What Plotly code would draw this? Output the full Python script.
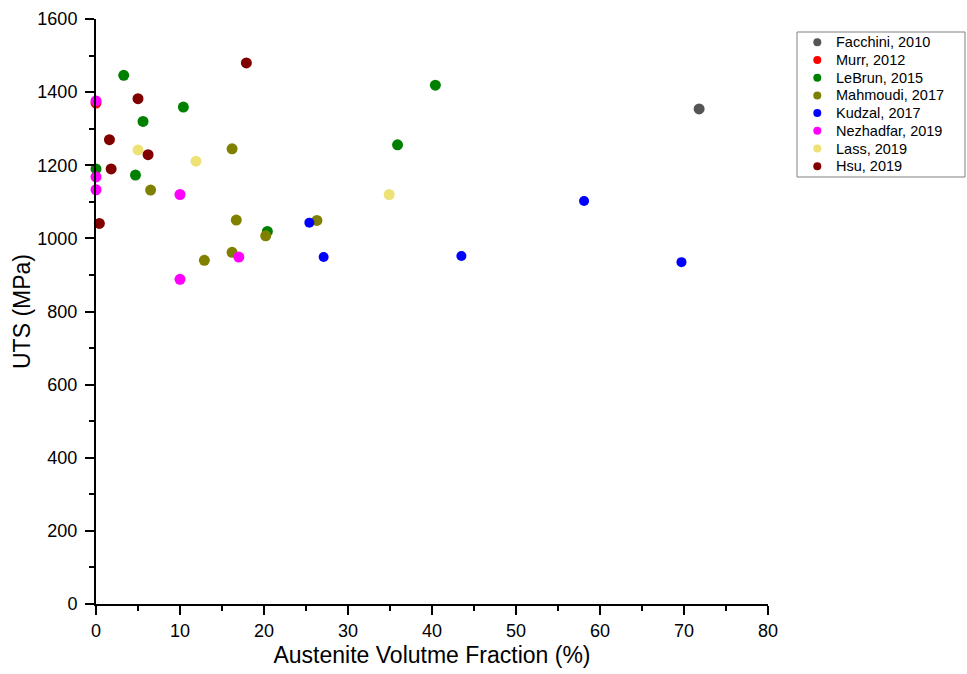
import plotly.graph_objects as go

series_names = ["Facchini, 2010", "Murr, 2012", "LeBrun, 2015", "Mahmoudi, 2017",
                "Kudzal, 2017", "Nezhadfar, 2019", "Lass, 2019", "Hsu, 2019"]
series_colors = ["#555555", "#FF0000", "#008000", "#808000",
                 "#0000FF", "#FF00FF", "#EEE277", "#800000"]

facchini_x = [71.8]
facchini_y = [1354]

murr_x = [0.0]
murr_y = [1370]

lebrun_x = [3.3, 10.4, 5.6, 0.0, 4.7, 20.4, 40.4, 35.9]
lebrun_y = [1446, 1359, 1320, 1190, 1173, 1019, 1419, 1256]

mahmoudi_x = [16.2, 6.5, 16.7, 20.2, 16.2, 12.9, 26.3]
mahmoudi_y = [1245, 1132, 1050, 1007, 962, 940, 1049]

kudzal_x = [25.4, 27.1, 43.5, 58.1, 69.7]
kudzal_y = [1043, 949, 952, 1102, 935]

nezhadfar_x = [0.0, 0.0, 0.0, 10.0, 17.0, 10.0]
nezhadfar_y = [1376, 1168, 1133, 1120, 949, 888]

lass_x = [5.0, 11.9, 34.9]
lass_y = [1242, 1211, 1120]

hsu_x = [17.9, 5.0, 1.6, 6.2, 1.8, 0.4]
hsu_y = [1480, 1382, 1270, 1229, 1190, 1041]

all_x = [facchini_x, murr_x, lebrun_x, mahmoudi_x, kudzal_x, nezhadfar_x, lass_x, hsu_x]
all_y = [facchini_y, murr_y, lebrun_y, mahmoudi_y, kudzal_y, nezhadfar_y, lass_y, hsu_y]
sizes = [11, 11, 11, 11, 10, 11, 11, 11]

FONT = "Liberation Sans, Arial, sans-serif"

# figure geometry (pixels)
W, H = 967, 674
ML, MR, MT, MB = 96, 199, 19, 70
PW = W - ML - MR
PH = H - MT - MB


def px_to_paper_x(px):
    return (px - ML) / PW


def py_to_paper_y(py):
    return (H - MB - py) / PH


fig = go.Figure()
for name, col, xs, ys, s in zip(series_names, series_colors, all_x, all_y, sizes):
    fig.add_trace(go.Scatter(
        x=xs, y=ys, mode="markers", name=name, cliponaxis=False, showlegend=False,
        marker=dict(color=col, size=s, line=dict(width=0)),
    ))

axis_common = dict(
    showgrid=False, zeroline=False, showline=True, linecolor="black", linewidth=2,
    ticks="outside", ticklen=9, tickwidth=2, tickcolor="black",
    tickfont=dict(family=FONT, size=18, color="black"),
    mirror=False, automargin=False,
)

fig.update_xaxes(
    range=[0, 80], dtick=10, tick0=0,
    minor=dict(ticks="outside", ticklen=5, tickwidth=2, tickcolor="black", dtick=5),
    title=dict(text="Austenite Volutme Fraction (%)", standoff=7,
               font=dict(family=FONT, size=23, color="black")),
    **axis_common,
)
fig.update_yaxes(
    range=[0, 1600], dtick=200, tick0=0, ticklabelstandoff=4,
    minor=dict(ticks="outside", ticklen=5, tickwidth=2, tickcolor="black", dtick=100),
    title=dict(text="UTS (MPa)", standoff=0,
               font=dict(family=FONT, size=23, color="black")),
    **axis_common,
)

# Legend box drawn manually (to match compact row spacing of the original)
box_left, box_top, box_right, box_bottom = 797, 32, 965, 177
shapes = [dict(type="rect", xref="paper", yref="paper",
               x0=px_to_paper_x(box_left), x1=px_to_paper_x(box_right),
               y0=py_to_paper_y(box_bottom), y1=py_to_paper_y(box_top),
               line=dict(color="#808080", width=1), fillcolor="white", layer="above")]
annotations = []
row0, row_step = 42.3, 17.7
for i, (name, col) in enumerate(zip(series_names, series_colors)):
    yc = py_to_paper_y(row0 + i * row_step)
    shapes.append(dict(type="circle", xref="paper", yref="paper",
                       xsizemode="pixel", ysizemode="pixel",
                       xanchor=px_to_paper_x(817.3), yanchor=yc,
                       x0=-4, x1=4, y0=-4, y1=4,
                       fillcolor=col, line=dict(width=0), layer="above"))
    annotations.append(dict(xref="paper", yref="paper", x=px_to_paper_x(834), y=yc,
                            text=name, showarrow=False, xanchor="left", yanchor="middle",
                            font=dict(family=FONT, size=14.5, color="black")))

fig.update_layout(
    width=W, height=H,
    margin=dict(l=ML, r=MR, t=MT, b=MB, autoexpand=False),
    plot_bgcolor="white", paper_bgcolor="white",
    font=dict(family=FONT, color="black"),
    showlegend=False,
    hovermode=False,
    shapes=shapes,
    annotations=annotations,
)

fig.write_html("out.html",
               config={"displayModeBar": False, "staticPlot": True},
               post_script="document.body.style.margin='0px';document.body.style.padding='0px';")
